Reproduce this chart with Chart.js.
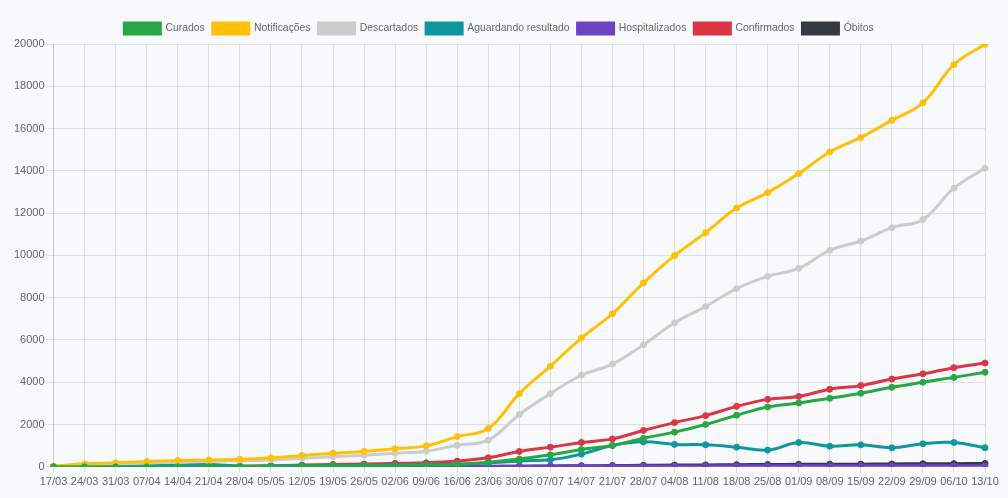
<!DOCTYPE html>
<html>
<head>
<meta charset="utf-8">
<script src="https://cdn.jsdelivr.net/npm/chart.js@4/dist/chart.umd.min.js"></script>
<style>
  html, body { margin: 0; padding: 0; background: #f8f9fa; }
  .wrap { width: 1008px; height: 498px; position: relative; }
</style>
</head>
<body>
<div class="wrap"><canvas id="evolucao"></canvas></div>
<script>
const labels = ['17/03', '24/03', '31/03', '07/04', '14/04', '21/04', '28/04', '05/05', '12/05', '19/05',
  '26/05', '02/06', '09/06', '16/06', '23/06', '30/06', '07/07', '14/07', '21/07', '28/07',
  '04/08', '11/08', '18/08', '25/08', '01/09', '08/09', '15/09', '22/09', '29/09', '06/10', '13/10'];

const curados = [0, 0, 0, 0, 0, 10, 10, 20, 30, 40, 50, 60, 80, 110, 210, 365, 565, 820, 1010, 1350,
  1640, 2000, 2440, 2830, 3020, 3240, 3480, 3760, 4000, 4230, 4470];
const notificacoes = [30, 140, 190, 250, 300, 320, 360, 420, 535, 645, 725, 850, 990, 1430, 1810, 3460, 4760, 6090, 7240, 8700,
  9990, 11070, 12240, 12970, 13870, 14890, 15580, 16390, 17220, 19030, 19990];
const descartados = [20, 90, 130, 180, 220, 250, 290, 320, 400, 480, 550, 640, 740, 1020, 1260, 2470, 3460, 4330, 4860, 5770,
  6810, 7580, 8430, 9010, 9390, 10240, 10680, 11310, 11700, 13180, 14120];
const aguardando = [10, 20, 30, 50, 70, 110, 30, 40, 50, 60, 70, 80, 100, 120, 180, 280, 330, 600, 1010, 1180,
  1060, 1040, 930, 790, 1150, 975, 1040, 900, 1090, 1150, 900];
const hospitalizados = [0, 0, 5, 5, 10, 10, 10, 10, 15, 15, 20, 20, 20, 25, 30, 30, 30, 35, 40, 40,
  40, 40, 45, 45, 50, 50, 50, 50, 50, 50, 50];
const confirmados = [0, 10, 15, 20, 25, 30, 40, 50, 80, 110, 130, 165, 190, 270, 425, 725, 930, 1150, 1320, 1720,
  2090, 2420, 2860, 3190, 3330, 3670, 3840, 4150, 4400, 4690, 4910];
const obitos = [0, 0, 0, 0, 1, 2, 3, 4, 5, 6, 8, 10, 12, 15, 20, 30, 40, 50, 60, 70,
  80, 90, 100, 110, 115, 120, 125, 135, 145, 150, 160];

function serie(label, data, color) {
  return {
    label,
    data,
    borderColor: color,
    backgroundColor: color,
    pointBackgroundColor: color,
    pointBorderColor: color,
    borderWidth: 3,
    pointRadius: 3,
    pointBorderWidth: 1,
    tension: 0.4,
    fill: false
  };
}

Chart.defaults.font.family = 'Arial, "Liberation Sans", sans-serif';
Chart.defaults.font.size = 11;
Chart.defaults.color = '#666';

new Chart(document.getElementById('evolucao'), {
  type: 'line',
  data: {
    labels,
    datasets: [
      serie('Curados', curados, '#28a745'),
      serie('Notificações', notificacoes, '#ffc107'),
      serie('Descartados', descartados, '#cccccc'),
      serie('Aguardando resultado', aguardando, '#0e97a1'),
      serie('Hospitalizados', hospitalizados, '#6f42c1'),
      serie('Confirmados', confirmados, '#dc3545'),
      serie('Óbitos', obitos, '#343a40')
    ]
  },
  options: {
    responsive: true,
    maintainAspectRatio: false,
    animation: false,
    layout: { padding: { left: 13, right: 23, top: 15, bottom: 6 } },
    plugins: {
      legend: {
        position: 'top',
        labels: {
          boxWidth: 36,
          boxHeight: 11,
          padding: 8,
          font: { size: 10.4 }
        }
      },
      tooltip: { enabled: false }
    },
    scales: {
      x: {
        grid: { color: 'rgba(0,0,0,0.1)', tickLength: 6 },
        ticks: { maxRotation: 0, autoSkip: false }
      },
      y: {
        min: 0,
        max: 20000,
        grid: { color: 'rgba(0,0,0,0.1)', tickLength: 8 },
        ticks: { stepSize: 2000, padding: 1, callback: v => String(v) }
      }
    }
  }
});
</script>
</body>
</html>
